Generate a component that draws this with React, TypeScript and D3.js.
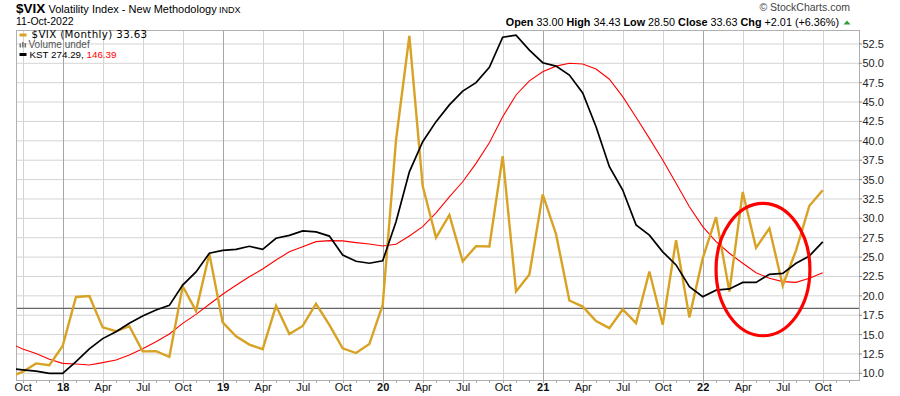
import React from "react";
import * as d3 from "d3";

// ---------- DATA ----------
const firstMonth = "2017-09-01"; // first monthly bar (partly off the left edge)
const vixClose = [
  9.51, 10.18, 11.28, 11.04,
  13.54, 19.85, 19.97, 15.93, 15.43, 16.09, 12.83, 12.86, 12.12, 21.23, 18.07, 25.42,
  16.57, 14.78, 13.71, 13.12, 18.71, 15.08, 16.12, 18.98, 16.24, 13.22, 12.62, 13.78,
  18.84, 40.11, 53.54, 34.15, 27.51, 30.43, 24.46, 26.41, 26.37, 38.02, 20.57, 22.75,
  33.09, 27.95, 19.4, 18.61, 16.76, 15.83, 18.24, 16.48, 23.14, 16.26, 27.19, 17.22,
  24.83, 30.15, 20.56, 33.4, 26.19, 28.71, 21.33, 25.87, 31.62, 33.63,
];
const kstLine = [
  -248, -254, -259, -268,
  -268, -220, -167, -125, -97, -62, -32, -7, 12, 96, 150, 227,
  239, 243, 256, 243, 289, 301, 319, 315, 298, 220, 194, 186,
  196, 357, 563, 687, 770, 839, 896, 931, 994, 1118, 1127, 1065,
  1013, 999, 962, 888, 749, 584, 488, 344, 302, 233, 179, 89,
  48, 75, 80, 107, 107, 140, 144, 186, 216, 274.29,
];
const kstSignal = [
  -143, -168, -186, -210,
  -227, -230, -234, -224, -213, -193, -167, -138, -106, -62, -25, 17,
  58, 95, 130, 162, 199, 233, 254, 275, 279, 278, 271, 265,
  257, 264, 298, 337, 394, 460, 522, 598, 683, 790, 880, 938,
  976, 999, 1011, 1008, 987, 945, 873, 788, 701, 612, 516, 419,
  337, 275, 227, 186, 147, 124, 110, 107, 124, 146.39,
];
const yTicks = [10, 12.5, 15, 17.5, 20, 22.5, 25, 27.5, 30, 32.5, 35, 37.5, 40, 42.5, 45, 47.5, 50, 52.5];
const monthAbbr = ["Jan", "Feb", "Mar", "Apr", "May", "Jun", "Jul", "Aug", "Sep", "Oct", "Nov", "Dec"];
const ohlcLabels = ["Open", "High", "Low", "Close", "Chg"];
const ohlcValues = ["33.00", "34.43", "28.50", "33.63", "+2.01 (+6.36%)"];
const kstZero = 0;
// annotation ellipse (month index, value, radius in months, radius in value units)
const ellipseMonth = 56.52;
const ellipseValue = 23.39;
const ellipseRMonths = 3.52;
const ellipseRValue = 8.54;

// ---------- LAYOUT ----------
const W = 900;
const H = 396;
const L = 16;
const R = 859;
const T = 30;
const B = 380;

const GOLD = "#d8a224";
const FONT = "'Liberation Sans', Arial, sans-serif";

export default function App() {
  const start = new Date(firstMonth + "T00:00:00Z");
  const months = d3.utcMonth.range(start, d3.utcMonth.offset(start, vixClose.length + 3));

  const x = d3.scaleLinear().domain([0.5, 63.72]).range([L, R]);
  const y = d3.scaleLinear().domain([9.14, 54.3]).range([B, T]);
  const yK = d3.scaleLinear().domain([-295.7, 1148]).range([B, T]);

  const vixPath = d3.line<number>().x((_, i) => x(i)).y((d) => y(d))(vixClose) || "";
  const kstPath = d3.line<number>().x((_, i) => x(i)).y((d) => yK(d))(kstLine) || "";
  const sigPath = d3.line<number>().x((_, i) => x(i)).y((d) => yK(d))(kstSignal) || "";

  const monthIdx = d3.range(1, 64).filter((i) => x(i) >= L && x(i) <= R);
  const quarterIdx = monthIdx.filter((i) => months[i].getUTCMonth() % 3 === 0);

  const ecx = x(ellipseMonth);
  const ecy = y(ellipseValue);
  const erx = x(ellipseMonth + ellipseRMonths) - ecx;
  const ery = ecy - y(ellipseValue + ellipseRValue);

  return (
    <svg
      width={W}
      height={H}
      style={{ position: "fixed", left: 0, top: 0, background: "#fff" }}
      fontFamily={FONT}
    >
      <rect x={0} y={0} width={W} height={H} fill="#fff" />
      <defs>
        <clipPath id="plot">
          <rect x={L} y={T} width={R - L} height={B - T} />
        </clipPath>
      </defs>

      {/* horizontal grid */}
      {yTicks.map((t) => (
        <line key={"h" + t} x1={L} x2={R} y1={y(t)} y2={y(t)} stroke="#d4d4d4" strokeWidth={1} />
      ))}
      {/* vertical grid */}
      {quarterIdx.map((i) => {
        const isYear = months[i].getUTCMonth() === 0;
        return (
          <line
            key={"v" + i}
            x1={Math.round(x(i)) + 0.5}
            x2={Math.round(x(i)) + 0.5}
            y1={T}
            y2={B}
            stroke={isYear ? "#a6a6a6" : "#d4d4d4"}
            strokeWidth={1}
          />
        );
      })}
      {/* KST zero line */}
      <line x1={L} x2={R} y1={yK(kstZero)} y2={yK(kstZero)} stroke="#666" strokeWidth={1.2} />

      {/* frame */}
      <rect x={L + 0.5} y={T + 0.5} width={R - L} height={B - T} fill="none" stroke="#b0b0b0" strokeWidth={1} />

      {/* series */}
      <g clipPath="url(#plot)">
        <path d={sigPath} fill="none" stroke="#ff0000" strokeWidth={1.1} />
        <path d={vixPath} fill="none" stroke={GOLD} strokeWidth={2.4} strokeLinejoin="miter" />
        <path d={kstPath} fill="none" stroke="#000" strokeWidth={1.7} />
      </g>

      {/* annotation */}
      <ellipse cx={ecx} cy={ecy} rx={erx} ry={ery} fill="none" stroke="#ff0000" strokeWidth={3.2} />

      {/* y axis */}
      {yTicks.map((t) => (
        <g key={"yt" + t}>
          <line x1={R} x2={R + 3} y1={y(t)} y2={y(t)} stroke="#888" />
          <text x={R + 3.5} y={y(t)} dy="0.36em" fontSize={11} fill="#222">
            {t.toFixed(1)}
          </text>
        </g>
      ))}

      {/* x axis ticks */}
      {monthIdx.map((i) => (
        <line
          key={"mt" + i}
          x1={Math.round(x(i)) + 0.5}
          x2={Math.round(x(i)) + 0.5}
          y1={B}
          y2={B + 3}
          stroke="#aaa"
        />
      ))}
      {quarterIdx.map((i) => {
        const m = months[i].getUTCMonth();
        const isYear = m === 0;
        const label = isYear ? String(months[i].getUTCFullYear()).slice(2) : monthAbbr[m];
        return (
          <text
            key={"xl" + i}
            x={x(i) + 0.5}
            y={390.5}
            textAnchor="middle"
            fontSize={11}
            fontWeight={isYear ? "bold" : "normal"}
            fill="#111"
          >
            {label}
          </text>
        );
      })}

      {/* title */}
      <text x={16} y={13} fontSize={13.5} fontWeight="bold" fill="#000">$VIX</text>
      <text x={48.5} y={13} fontSize={11} fill="#000">Volatility Index - New Methodology</text>
      <text x={219} y={13} fontSize={9} fill="#000">INDX</text>
      <text x={16} y={25} fontSize={10.5} fill="#000">11-Oct-2022</text>

      <text x={850} y={11} fontSize={10.5} fill="#444" textAnchor="end">© StockCharts.com</text>
      <text x={839} y={26} fontSize={10.8} fill="#000" textAnchor="end">
        {ohlcLabels.map((lab, k) => (
          <React.Fragment key={lab}>
            <tspan fontWeight="bold">{(k > 0 ? "  " : "") + lab}</tspan>
            <tspan>{" " + ohlcValues[k]}</tspan>
          </React.Fragment>
        ))}
      </text>
      <path d="M843.5,24.5 L850.5,24.5 L847,20.5 Z" fill="#2e9e3a" />

      {/* legend */}
      <line x1={19.5} x2={26.5} y1={35} y2={35} stroke={GOLD} strokeWidth={3} />
      <text
        x={31.5}
        y={38}
        fontSize={10.3}
        letterSpacing={0.35}
        fontFamily="'DejaVu Sans', Verdana, sans-serif"
        fill="#000"
      >
        $VIX (Monthly) 33.63
      </text>
      <g fill="#777">
        <rect x={19.5} y={43.5} width={1.6} height={4} />
        <rect x={22} y={42} width={1.6} height={5.5} />
        <rect x={24.5} y={43} width={1.6} height={4.5} />
      </g>
      <text x={28.5} y={47.5} fontSize={10} fill="#555">Volume undef</text>
      <line x1={19.5} x2={26.5} y1={54.5} y2={54.5} stroke="#000" strokeWidth={3} />
      <text x={29.5} y={57.5} fontSize={9.8} fill="#000">
        KST 274.29, <tspan fill="#ff0000">146.39</tspan>
      </text>
    </svg>
  );
}
